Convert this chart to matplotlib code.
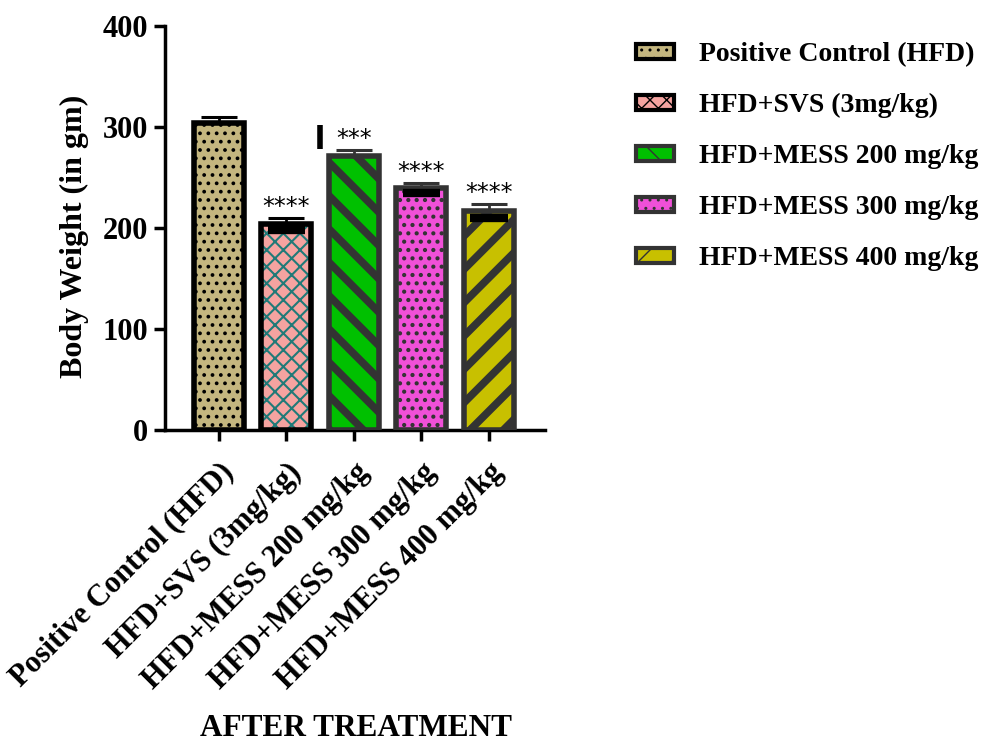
import numpy as np
import matplotlib.pyplot as plt
from matplotlib.patches import Patch

groups = ['Positive Control (HFD)', 'HFD+SVS (3mg/kg)', 'HFD+MESS 200 mg/kg',
          'HFD+MESS 300 mg/kg', 'HFD+MESS 400 mg/kg']
means = [304, 204, 271, 240, 217]
sems = [6, 6, 6, 5, 7]
stars = ['', '****', '***', '****', '****']
# groups whose lower error cap shows as a black band inside the bar top
low_cap = [False, True, False, True, True]

faces = ['#c4b67f', '#f5a3a0', '#00c000', '#f050d8', '#c8c000']
hatch_cols = ['#000000', '#1f7a78', '#333333', '#333333', '#333333']
edges = ['#000000', '#000000', '#333333', '#333333', '#333333']
hatches = ['..', 'xx', '\\', '..', '/']
hatch_lw = [1.5, 1.5, 5.5, 1.8, 5.5]

plt.rcParams['font.family'] = 'Liberation Serif'
plt.rcParams['font.weight'] = 'bold'

fig = plt.figure(figsize=(9.89, 7.46), dpi=100)
ax = fig.add_axes([0.1668, 0.4236, 0.3842, 0.5414])

x = np.arange(len(groups))
w = 0.74
for i in range(len(groups)):
    # fill + hatch first (hatch takes the edge colour), then the thick border on top
    with plt.rc_context({'hatch.linewidth': hatch_lw[i]}):
        ax.bar(x[i], means[i], w, color=faces[i], edgecolor=hatch_cols[i],
               hatch=hatches[i], linewidth=0, zorder=2)
    ax.bar(x[i], means[i], w, facecolor='none', edgecolor=edges[i],
           linewidth=4, zorder=3)
    ax.errorbar(x[i], means[i], yerr=[[0], [sems[i]]], fmt='none',
                ecolor=edges[i], elinewidth=2, capsize=13, capthick=2.2, zorder=4)
    if low_cap[i]:
        ax.hlines(means[i] - sems[i], x[i] - 0.28, x[i] + 0.28, color='black',
                  linewidth=6, zorder=4)
    if stars[i]:
        ax.text(x[i], means[i] + sems[i] - 1, stars[i], ha='center', va='bottom',
                fontsize=17, fontweight='normal', family='DejaVu Sans')
# stray marker next to the 200 mg/kg group
ax.plot([x[2] - 0.5, x[2] - 0.5], [means[2] + sems[2] + 1, means[2] + sems[2] + 25],
        color='black', linewidth=4, solid_capstyle='butt', zorder=4)

ax.set_xlim(-0.8, 4.83)
ax.set_ylim(0, 400)
ax.set_yticks([0, 100, 200, 300, 400])
ax.set_xticks(x)
ax.set_xticklabels(groups, rotation=45, ha='right', rotation_mode='anchor')
for sp in ['top', 'right']:
    ax.spines[sp].set_visible(False)
for sp in ['left', 'bottom']:
    ax.spines[sp].set_linewidth(2.5)
ax.tick_params(width=2.5, length=8, labelsize=22)
ax.tick_params(axis='x', pad=12)
ax.tick_params(axis='y', pad=4)
ax.set_ylabel('Body Weight (in gm)', fontsize=23, fontweight='bold')
ax.yaxis.set_label_coords(-0.2, 0.48)
fig.text(0.36, 0.004, 'AFTER TREATMENT', ha='center', va='bottom',
         fontsize=22.5, fontweight='bold')

handles = [Patch(facecolor=faces[i], edgecolor=edges[i], hatch=hatches[i], linewidth=3)
           for i in range(len(groups))]
fig.legend(handles, groups, loc='upper left', bbox_to_anchor=(0.632, 0.958),
           frameon=False, fontsize=20, handlelength=1.37, handleheight=0.45,
           labelspacing=0.93, handletextpad=0.9, borderaxespad=0)

fig.savefig('out.png', dpi=100)
